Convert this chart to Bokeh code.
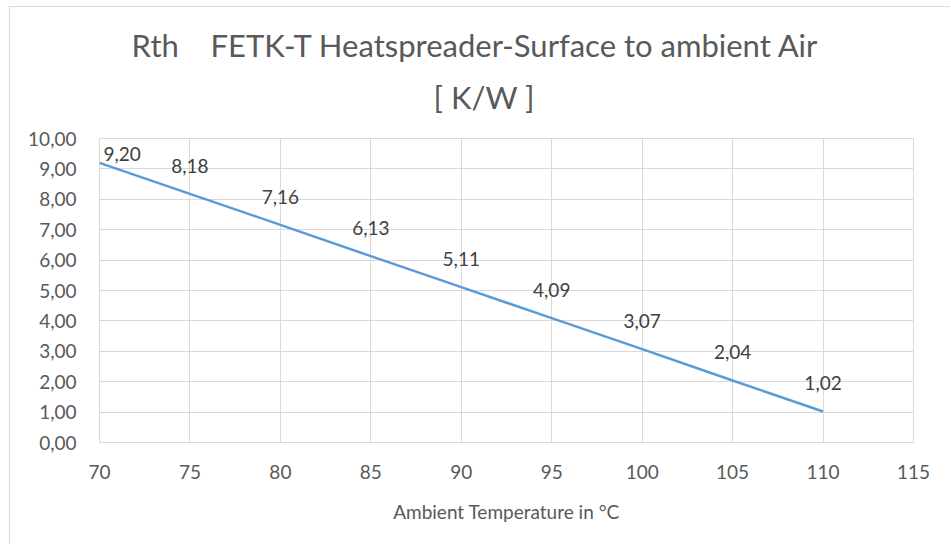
from bokeh.plotting import figure
from bokeh.models import ColumnDataSource, Title, FixedTicker, Range1d
from bokeh.embed import file_html
from bokeh.resources import INLINE
from bokeh.core.properties import value

# ---- data ----
temperatures = [70, 75, 80, 85, 90, 95, 100, 105, 110]
rth_values = [9.20, 8.18, 7.16, 6.13, 5.11, 4.09, 3.07, 2.04, 1.02]
x_ticks = [70, 75, 80, 85, 90, 95, 100, 105, 110, 115]
y_ticks = [0, 1, 2, 3, 4, 5, 6, 7, 8, 9, 10]
y_tick_labels = ["0,00", "1,00", "2,00", "3,00", "4,00", "5,00", "6,00", "7,00", "8,00", "9,00", "10,00"]
title_line1 = "Rth\u00a0\u00a0\u00a0\u00a0FETK-T Heatspreader-Surface to ambient Air"
title_line2 = "[ K/W ]"
x_label = "Ambient Temperature in °C"

FONT = "Lato"
TXT = "#595959"
GRID = "#d9d9d9"
W, H = 941, 538

p = figure(width=W, height=H, output_backend="svg", toolbar_location=None,
           x_range=Range1d(70, 115), y_range=Range1d(0, 10),
           min_border_left=89, min_border_right=38, min_border_top=131, min_border_bottom=103)
p.styles = {"border-left": "1px solid #d9d9d9", "border-top": "1px solid #d9d9d9",
            "margin-left": "9px", "margin-top": "6px"}
p.outline_line_color = GRID
p.background_fill_color = "white"
p.border_fill_color = "white"

p.xgrid.ticker = FixedTicker(ticks=x_ticks)
p.ygrid.ticker = FixedTicker(ticks=y_ticks)
p.xgrid.grid_line_color = GRID
p.ygrid.grid_line_color = GRID

p.xaxis.ticker = FixedTicker(ticks=x_ticks)
p.yaxis.ticker = FixedTicker(ticks=y_ticks)
p.yaxis.major_label_overrides = {t: l for t, l in zip(y_ticks, y_tick_labels)}
for ax in (p.xaxis[0], p.yaxis[0]):
    ax.major_tick_line_color = None
    ax.minor_tick_line_color = None
    ax.major_label_text_font = FONT
    ax.major_label_text_font_size = "19px"
    ax.major_label_text_color = TXT
p.xaxis.axis_line_color = GRID
p.yaxis.axis_line_color = None
p.xaxis.major_label_standoff = 16
p.yaxis.major_label_standoff = 17
p.xaxis.axis_label = x_label
p.xaxis.axis_label_text_font = FONT
p.xaxis.axis_label_text_font_size = "19px"
p.xaxis.axis_label_text_font_style = "normal"
p.xaxis.axis_label_text_color = TXT
p.xaxis.axis_label_standoff = 18

src = ColumnDataSource(dict(
    x=temperatures, y=rth_values,
    label=[f"{v:.2f}".replace(".", ",") for v in rth_values],
    xo=[4 if i == 0 else 0 for i in range(len(temperatures))],
    yo=[-9 if i == 0 else -28 for i in range(len(temperatures))],
    align=["left" if i == 0 else "center" for i in range(len(temperatures))],
))
p.line("x", "y", source=src, line_color="#5b9bd5", line_width=2.5)
p.text("x", "y", text="label", source=src, x_offset="xo", y_offset="yo",
       text_align="align", text_baseline="middle",
       text_font=value(FONT), text_font_size="19px", text_color="#404040")

# two-line chart title (nearest to the frame added first)
p.add_layout(Title(text=title_line2, align="left", offset=334, standoff=45,
                   text_font=FONT, text_font_size="31px", text_font_style="normal",
                   text_color=TXT), "above")
p.add_layout(Title(text=title_line1, align="left", offset=32, standoff=-20,
                   text_font=FONT, text_font_size="31px", text_font_style="normal",
                   text_color=TXT), "above")

open("out.html", "w").write(file_html(p, INLINE))
